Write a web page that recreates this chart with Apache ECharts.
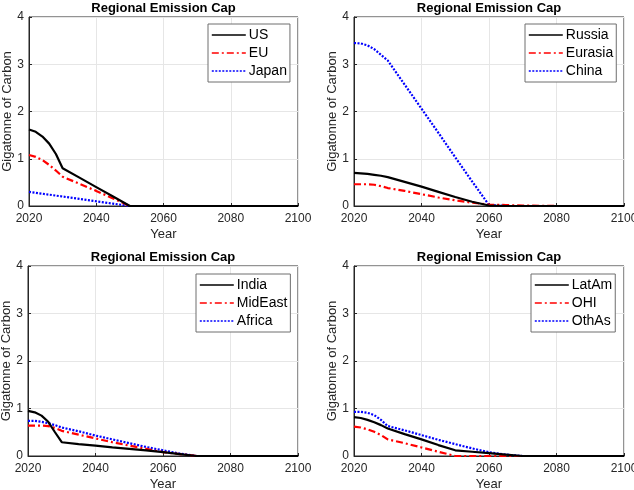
<!DOCTYPE html>
<html><head><meta charset="utf-8">
<script src="https://cdn.jsdelivr.net/npm/echarts@6/dist/echarts.min.js"></script>
<style>html,body{margin:0;padding:0;background:#fff}#c{width:634px;height:490px}</style>
</head><body><div id="c"></div>
<script>
const years = [2020,2022,2024,2026,2028,2030,2035,2040,2045,2050,2055,2060,2065,2070,2080,2090,2100];
const xTicks = [2020,2040,2060,2080,2100];
const yTicks = [0,1,2,3,4];
const US     = [1.62,1.57,1.47,1.32,1.10,0.80,0.60,0.40,0.20,0,0,0,0,0,0,0,0];
const EU     = [1.08,1.04,0.97,0.87,0.75,0.62,0.47,0.32,0.16,0,0,0,0,0,0,0,0];
const Japan  = [0.30,0.28,0.26,0.24,0.22,0.20,0.15,0.10,0.05,0,0,0,0,0,0,0,0];
const Russia = [0.70,0.69,0.68,0.66,0.64,0.61,0.51,0.41,0.30,0.19,0.09,0.01,0,0,0,0,0];
const Eurasia= [0.46,0.46,0.46,0.45,0.42,0.38,0.32,0.25,0.18,0.12,0.07,0.03,0.02,0.01,0,0,0];
const China  = [3.45,3.44,3.40,3.32,3.20,3.08,2.57,2.06,1.55,1.03,0.52,0.02,0,0,0,0,0];
const India  = [0.95,0.92,0.85,0.72,0.50,0.29,0.25,0.22,0.18,0.15,0.12,0.08,0.04,0,0,0,0];
const MidEast= [0.64,0.64,0.64,0.63,0.59,0.53,0.45,0.37,0.29,0.22,0.15,0.08,0.04,0,0,0,0];
const Africa = [0.74,0.74,0.72,0.69,0.65,0.60,0.52,0.43,0.35,0.27,0.19,0.12,0.05,0,0,0,0];
const LatAm  = [0.82,0.80,0.76,0.71,0.65,0.58,0.46,0.35,0.23,0.12,0.09,0.06,0.03,0,0,0,0];
const OHI    = [0.62,0.60,0.56,0.51,0.44,0.35,0.27,0.18,0.09,0,0,0,0,0,0,0,0];
const OthAs  = [0.93,0.93,0.91,0.86,0.76,0.63,0.54,0.44,0.34,0.25,0.16,0.08,0.03,0,0,0,0];

const panels = [
  {names:['US','EU','Japan'], data:[US,EU,Japan], grid:{left:29,top:17,width:269,height:189}, leg:{left:208,top:24}},
  {names:['Russia','Eurasia','China'], data:[Russia,Eurasia,China], grid:{left:354,top:17,width:270,height:189}, leg:{left:525,top:24}},
  {names:['India','MidEast','Africa'], data:[India,MidEast,Africa], grid:{left:28,top:266,width:270,height:190}, leg:{left:196,top:274}},
  {names:['LatAm','OHI','OthAs'], data:[LatAm,OHI,OthAs], grid:{left:354,top:266,width:270,height:190}, leg:{left:531,top:274}}
];
const styles = [
  {color:'#000000', type:'solid', width:2.2},
  {color:'#ff0000', type:[7,3,2,3], width:2.2},
  {color:'#0000ff', type:[2,1.5], width:2.2}
];
const txt = '#262626';
const font = 'Liberation Sans, Arial, sans-serif';
const option = {
  animation:false,
  textStyle:{fontFamily:font},
  title:[], grid:[], xAxis:[], yAxis:[], legend:[], series:[]
};
panels.forEach((p,i)=>{
  option.title.push({text:'Regional Emission Cap', left:p.grid.left+p.grid.width/2, top:p.grid.top-15, textAlign:'center', padding:0,
    textStyle:{fontSize:13,fontWeight:'bold',color:'#000',fontFamily:font}});
  option.grid.push(Object.assign({show:true,borderColor:txt,borderWidth:1,backgroundColor:'#fff',containLabel:false,outerBoundsMode:'none'},p.grid));
  option.xAxis.push({type:'value',gridIndex:i,min:2020,max:2100,interval:20,name:'Year',nameLocation:'middle',nameGap:22,
    nameTextStyle:{fontSize:13,color:txt,fontFamily:font},
    axisLine:{show:true,onZero:false,lineStyle:{color:txt}},
    axisTick:{show:true,inside:true,length:3,lineStyle:{color:txt}},
    axisLabel:{fontSize:12,color:txt,margin:7,fontFamily:font,formatter:v=>xTicks.includes(v)?String(v):''},
    splitLine:{show:true,lineStyle:{color:'#e6e6e6'}}});
  option.yAxis.push({type:'value',gridIndex:i,min:0,max:4,interval:1,name:'Gigatonne of Carbon',nameLocation:'middle',nameGap:15,
    nameTextStyle:{fontSize:13,color:txt,fontFamily:font},
    axisLine:{show:true,lineStyle:{color:txt}},
    axisTick:{show:true,inside:true,length:3,lineStyle:{color:txt}},
    axisLabel:{fontSize:12,color:txt,margin:5,fontFamily:font,formatter:v=>yTicks.includes(v)?String(v):''},
    splitLine:{show:true,lineStyle:{color:'#e6e6e6'}}});
  option.legend.push({data:p.names, orient:'vertical', left:p.leg.left, top:p.leg.top,
    backgroundColor:'#fff', borderColor:'#6e6e6e', borderWidth:1, padding:[4,3,4,3], itemGap:4,
    itemWidth:34, itemHeight:14, selectedMode:false,
    itemStyle:{color:'rgba(0,0,0,0)', borderWidth:0, opacity:0},
    lineStyle:{width:1.6},
    textStyle:{fontSize:14,color:'#000',fontFamily:font,padding:[0,0,0,-2]}});
  p.names.forEach((n,k)=>{
    option.series.push({name:n,type:'line',xAxisIndex:i,yAxisIndex:i,showSymbol:false,symbol:'none',
      data:years.map((y,j)=>[y,p.data[k][j]]),
      lineStyle:Object.assign({},styles[k]), itemStyle:{color:styles[k].color}, z:10-k});
  });
});
const chart = echarts.init(document.getElementById('c'),null,{renderer:'canvas'});
chart.setOption(option);
</script></body></html>
